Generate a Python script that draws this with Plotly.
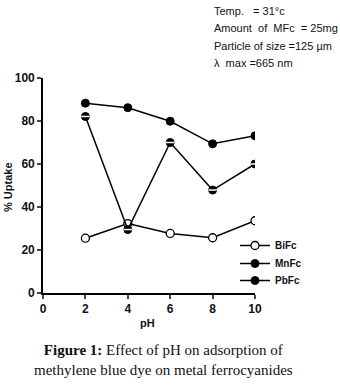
import plotly.graph_objects as go

ph = [2, 4, 6, 8, 10]
bifc = [25.5, 32.3, 27.7, 25.7, 33.6]
mnfc = [88.3, 86.2, 79.9, 69.4, 73.1]
pbfc = [82.1, 29.5, 70.0, 47.9, 60.0]
x_ticks = [0, 2, 4, 6, 8, 10]
y_ticks = [0, 20, 40, 60, 80, 100]
notes = ["Temp.   = 31°c", "Amount  of  MFc  = 25mg", "Particle of size =125 µm", "λ  max =665 nm"]

W, H = 340, 388
L, R, T, B = 43, 85, 78, 95
pw, phh = W - L - R, H - T - B

def px_x(x):
    return (x - L) / pw

def px_y(y):
    return (H - B - y) / phh

fig = go.Figure()
line = dict(color="black", width=1.5)
fig.add_trace(go.Scatter(x=ph, y=bifc, name="BiFc", mode="lines+markers", line=line, legend="legend",
                         marker=dict(symbol="circle", size=8, color="white", line=dict(color="black", width=1.3))))
fig.add_trace(go.Scatter(x=ph, y=mnfc, name="MnFc", mode="lines+markers", line=line, legend="legend2",
                         marker=dict(symbol="circle", size=8, color="black", line=dict(color="black", width=1))))
fig.add_trace(go.Scatter(x=ph, y=pbfc, name="PbFc", mode="lines+markers", line=line, legend="legend3",
                         marker=dict(symbol="circle", size=8, color="black", line=dict(color="black", width=1))))
fig.add_trace(go.Scatter(x=ph, y=pbfc, mode="markers", showlegend=False, hoverinfo="skip",
                         marker=dict(symbol="line-ew-open", size=6, color="white", line=dict(color="white", width=1.5))))

tickfont = dict(family="Liberation Sans", size=12, color="#111", weight="bold")
titlefont = dict(family="Liberation Sans", size=11, color="#111", weight="bold")
fig.update_xaxes(range=[0, 10], tickvals=x_ticks, ticks="outside", ticklen=4, tickwidth=1.5,
                 showline=True, linecolor="black", linewidth=1.7, showgrid=False, zeroline=False,
                 tickfont=tickfont, automargin=False)
fig.update_yaxes(range=[0, 100], tickvals=y_ticks, ticks="outside", ticklen=4, tickwidth=1.5,
                 showline=True, linecolor="black", linewidth=1.7, showgrid=False, zeroline=False,
                 tickfont=tickfont, automargin=False)

annots = []
for i, t in enumerate(notes):
    annots.append(dict(text=t, x=px_x(212), y=px_y(11 + i * 17.3), xref="paper", yref="paper",
                       showarrow=False, xanchor="left", yanchor="middle",
                       font=dict(family="Liberation Sans", size=11, color="#111")))
annots.append(dict(text="pH", x=px_x(147), y=px_y(323), xref="paper", yref="paper", showarrow=False,
                   xanchor="center", yanchor="middle", font=titlefont))
annots.append(dict(text="% Uptake", x=px_x(8), y=px_y(187), xref="paper", yref="paper", showarrow=False,
                   xanchor="center", yanchor="middle", textangle=-90, font=titlefont))
annots.append(dict(text="<b>Figure 1:</b> Effect of pH on adsorption of<br>methylene blue dye on metal ferrocyanides",
                   x=px_x(163), y=px_y(340), xref="paper", yref="paper", showarrow=False,
                   xanchor="center", yanchor="top",
                   font=dict(family="Liberation Serif", size=15, color="#111")))

def leg(top):
    return dict(x=px_x(235), y=px_y(top), xanchor="left", yanchor="top",
                font=dict(family="Liberation Sans", size=10, color="#111", weight="bold"),
                bgcolor="rgba(0,0,0,0)", itemwidth=30)

fig.update_layout(
    width=W, height=H, paper_bgcolor="white", plot_bgcolor="white",
    margin=dict(l=L, r=R, t=T, b=B, autoexpand=False),
    showlegend=True,
    legend=leg(231), legend2=leg(249), legend3=leg(266),
    annotations=annots,
)

fig.write_html("out.html", config={"displayModeBar": False},
               post_script="document.body.style.margin='0';document.body.style.overflow='hidden';")
